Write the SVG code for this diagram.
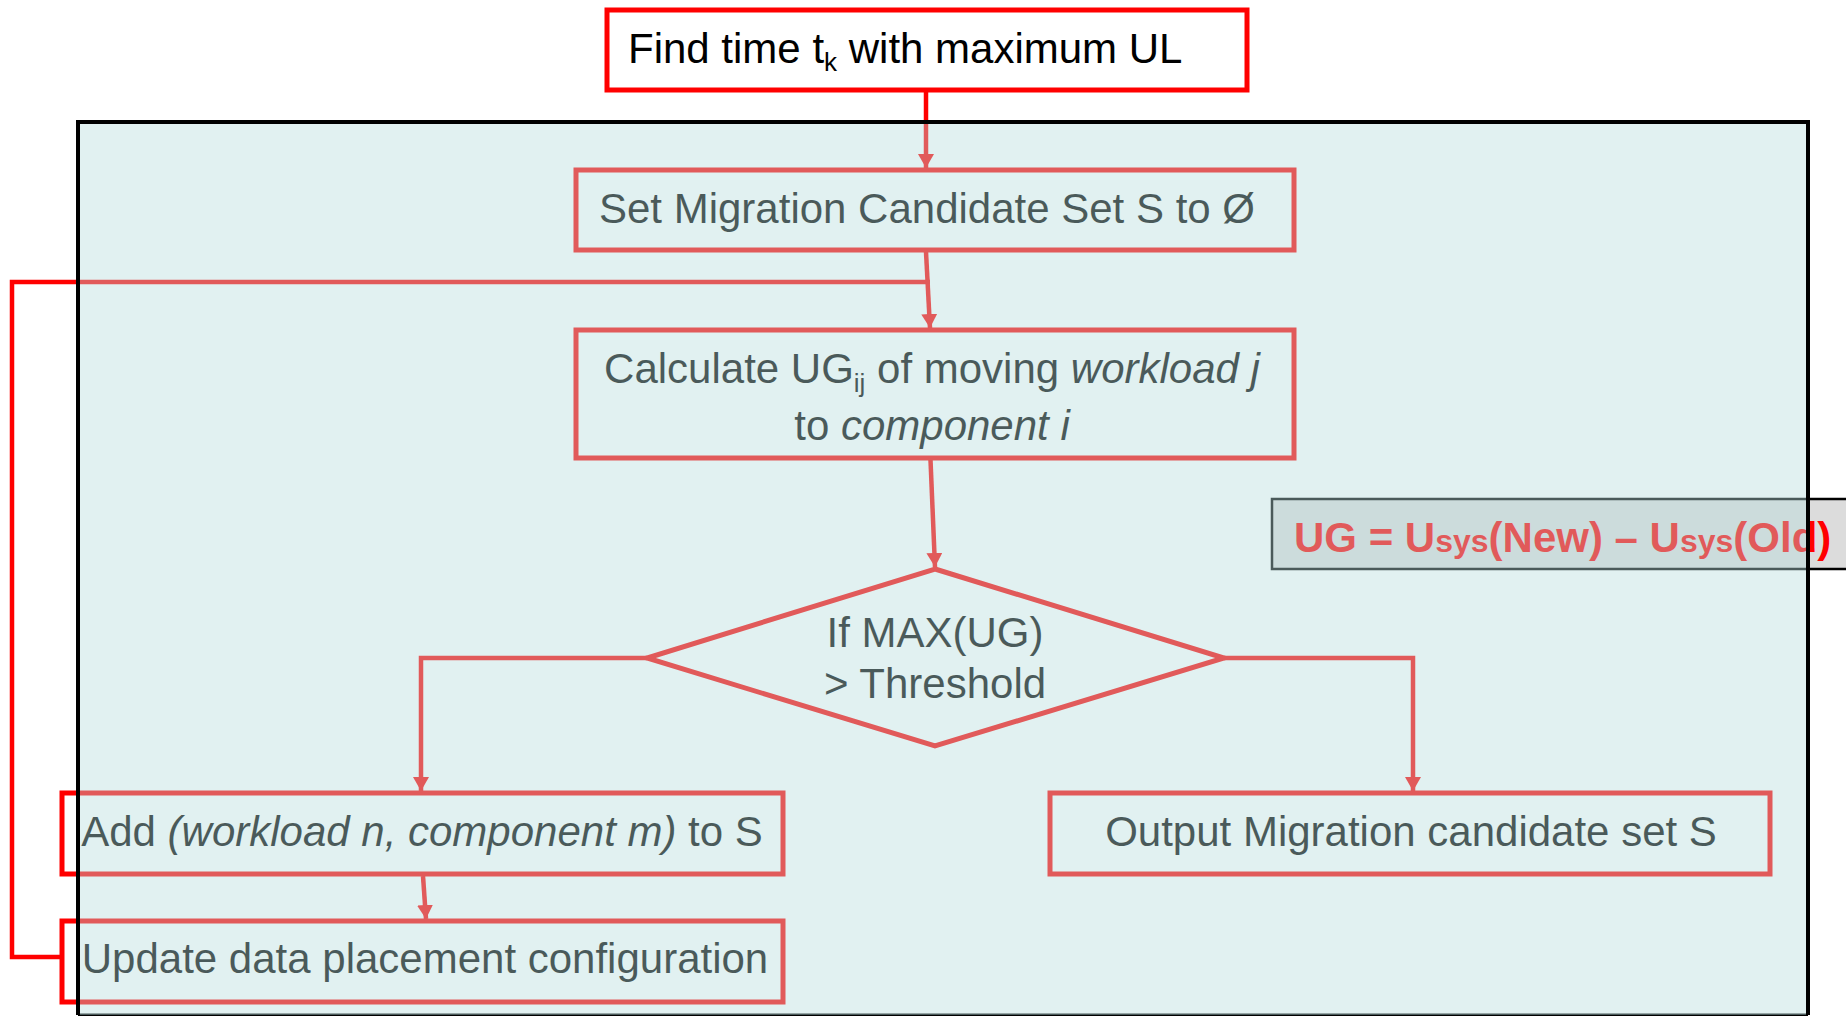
<svg xmlns="http://www.w3.org/2000/svg" width="1846" height="1016" viewBox="0 0 1846 1016">
  <defs>
    <style>
      .box { fill: #ffffff; stroke: #ff0000; stroke-width: 5; }
      .lbl { font-family: "Liberation Sans", Arial, sans-serif; font-size: 42px; fill: #000000; }
      .mid { text-anchor: middle; }
      .it { font-style: italic; }
      .sub { font-size: 26px; }
      .edge { fill: none; stroke: #ff0000; stroke-width: 4.5; }
      .eq { font-family: "Liberation Sans", Arial, sans-serif; font-size: 42px; font-weight: bold; fill: #ff0000; }
    </style>
    <marker id="arrow" markerWidth="16" markerHeight="16" refX="14" refY="8" orient="auto" markerUnits="userSpaceOnUse">
      <path d="M0,0 L14,8 L0,16 z" fill="#ff0000"/>
    </marker>
  </defs>

  <rect x="0" y="0" width="1846" height="1016" fill="#ffffff"/>

  <!-- panel bottom edge (sits under the tint) -->
  <line x1="78" y1="1015" x2="1808" y2="1015" stroke="#000000" stroke-width="3"/>

  <!-- nodes -->
  <g id="find-time">
    <rect class="box" x="607" y="10" width="640" height="80"/>
    <text class="lbl" x="628" y="63">Find time t<tspan class="sub" dy="8">k</tspan><tspan dy="-8"> with maximum UL</tspan></text>
  </g>

  <g id="set-empty">
    <rect class="box" x="576" y="170" width="718" height="80"/>
    <text class="lbl mid" x="927" y="223">Set Migration Candidate Set S to Ø</text>
  </g>

  <g id="calc-ug">
    <rect class="box" x="576" y="330" width="718" height="128"/>
    <text class="lbl mid" x="932" y="383">Calculate UG<tspan class="sub" dy="9">ij</tspan><tspan dy="-9"> of moving </tspan><tspan class="it">workload j</tspan></text>
    <text class="lbl mid" x="932" y="440">to <tspan class="it">component i</tspan></text>
  </g>

  <g id="threshold">
    <polygon class="box" points="935,569 1224,658 935,746 647,658"/>
    <text class="lbl mid" x="935" y="647">If MAX(UG)</text>
    <text class="lbl mid" x="935" y="698">&gt; Threshold</text>
  </g>

  <g id="add-pair">
    <rect class="box" x="62" y="793" width="721" height="81"/>
    <text class="lbl mid" x="422" y="846">Add <tspan class="it">(workload n, component m)</tspan> to S</text>
  </g>

  <g id="update-config">
    <rect class="box" x="62" y="921" width="721" height="81"/>
    <text class="lbl mid" x="425" y="973">Update data placement configuration</text>
  </g>

  <g id="output-set">
    <rect class="box" x="1050" y="793" width="720" height="81"/>
    <text class="lbl mid" x="1411" y="846">Output Migration candidate set S</text>
  </g>

  <g id="ug-formula">
    <rect x="1272" y="499" width="600" height="70" fill="#dcdcdc" stroke="#000000" stroke-width="2.5"/>
    <text class="eq" x="1294" y="552">UG = U<tspan font-size="32">sys</tspan>(New) – U<tspan font-size="32">sys</tspan>(Old)</text>
  </g>

  <!-- connectors -->
  <g id="connectors">
    <line class="edge" x1="926" y1="92" x2="926" y2="168" marker-end="url(#arrow)"/>
    <line class="edge" x1="926" y1="252" x2="930" y2="328" marker-end="url(#arrow)"/>
    <path class="edge" d="M62,957 H12 V282 H930" stroke-width="5"/>
    <line class="edge" x1="930.5" y1="460" x2="935" y2="567" marker-end="url(#arrow)"/>
    <path class="edge" d="M647,658 H421 V791" marker-end="url(#arrow)"/>
    <path class="edge" d="M1224,658 H1413 V791" marker-end="url(#arrow)"/>
    <line class="edge" x1="423" y1="876" x2="426" y2="919" marker-end="url(#arrow)"/>
  </g>

  <!-- translucent panel tint and its frame -->
  <g id="panel">
    <rect x="78" y="122" width="1730" height="893" fill="rgb(181,220,220)" fill-opacity="0.408"/>
    <path d="M78,1015 V122 H1808 V1015" fill="none" stroke="#000000" stroke-width="4"/>
  </g>
</svg>
